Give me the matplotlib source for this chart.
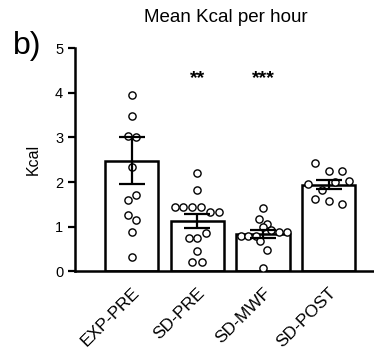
import matplotlib
matplotlib.use("Agg")
import matplotlib.pyplot as plt
import numpy as np

plt.rcParams['font.family'] = ['Liberation Sans', 'DejaVu Sans']

categories = ["EXP-PRE", "SD-PRE", "SD-MWF", "SD-POST"]
means = [2.48, 1.12, 0.83, 1.94]
sems = [0.53, 0.16, 0.09, 0.10]

exp_pre = [3.95, 3.48, 3.04, 3.01, 2.34, 1.70, 1.59, 1.27, 1.14, 0.89, 0.32]
exp_pre_off = [0.0, 0.0, -0.06, 0.07, 0.0, 0.07, -0.06, -0.06, 0.07, 0.0, 0.0]
sd_pre = [2.20, 1.82, 1.45, 1.45, 1.45, 1.45, 1.33, 1.33, 0.85, 0.74, 0.74, 0.46, 0.21, 0.21]
sd_pre_off = [0.0, 0.0, -0.34, -0.21, -0.08, 0.06, 0.20, 0.33, 0.14, -0.13, 0.0, 0.0, -0.08, 0.07]
sd_mwf = [1.41, 1.16, 1.06, 0.98, 0.92, 0.89, 0.89, 0.79, 0.79, 0.79, 0.68, 0.48, 0.07]
sd_mwf_off = [0.0, -0.06, 0.06, 0.0, 0.12, 0.24, 0.36, -0.34, -0.23, -0.11, -0.05, 0.06, 0.0]
sd_post = [2.43, 2.25, 2.25, 2.01, 2.02, 1.96, 1.82, 1.63, 1.57, 1.51]
sd_post_off = [-0.21, 0.0, 0.21, 0.10, 0.31, -0.32, -0.10, -0.21, 0.0, 0.21]

points = [exp_pre, sd_pre, sd_mwf, sd_post]
offsets = [exp_pre_off, sd_pre_off, sd_mwf_off, sd_post_off]
stars = ["", "**", "***", ""]

fig = plt.figure(figsize=(3.74, 3.51), dpi=100)
ax = fig.add_axes([0.2005, 0.2274, 0.7995, 0.635])

x = np.arange(len(categories))
ax.bar(x, means, width=0.81, color='white', edgecolor='black', linewidth=1.8, zorder=1)
for i in range(len(categories)):
    xs = i + np.array(offsets[i])
    ax.scatter(xs, points[i], s=27, facecolors='white', edgecolors='black',
               linewidths=1.0, zorder=3)
ax.errorbar(x, means, yerr=sems, fmt='none', ecolor='black', elinewidth=1.6,
            capsize=9.5, capthick=1.6, zorder=4)
for i, s in enumerate(stars):
    if s:
        ax.text(i, 4.33, s, ha='center', va='center', fontsize=14, fontweight='bold')

ax.set_xlim(-0.86, 3.69)
ax.set_ylim(0, 5)
ax.set_yticks([0, 1, 2, 3, 4, 5])
ax.set_xticks(x)
ax.set_xticklabels(categories, rotation=45, ha='right', rotation_mode='anchor', fontsize=12.5)
ax.tick_params(axis='y', labelsize=10.5, width=1.6, length=5)
ax.tick_params(axis='x', length=0, pad=10)
for sp in ['top', 'right']:
    ax.spines[sp].set_visible(False)
for sp in ['left', 'bottom']:
    ax.spines[sp].set_linewidth(1.8)
ax.set_ylabel("Kcal", fontsize=11.5, labelpad=10)

fig.text(0.605, 0.95, "Mean Kcal per hour", ha='center', va='center', fontsize=13.5)
fig.text(0.072, 0.87, "b)", ha='center', va='center', fontsize=23)

fig.savefig("out.png", dpi=100)
